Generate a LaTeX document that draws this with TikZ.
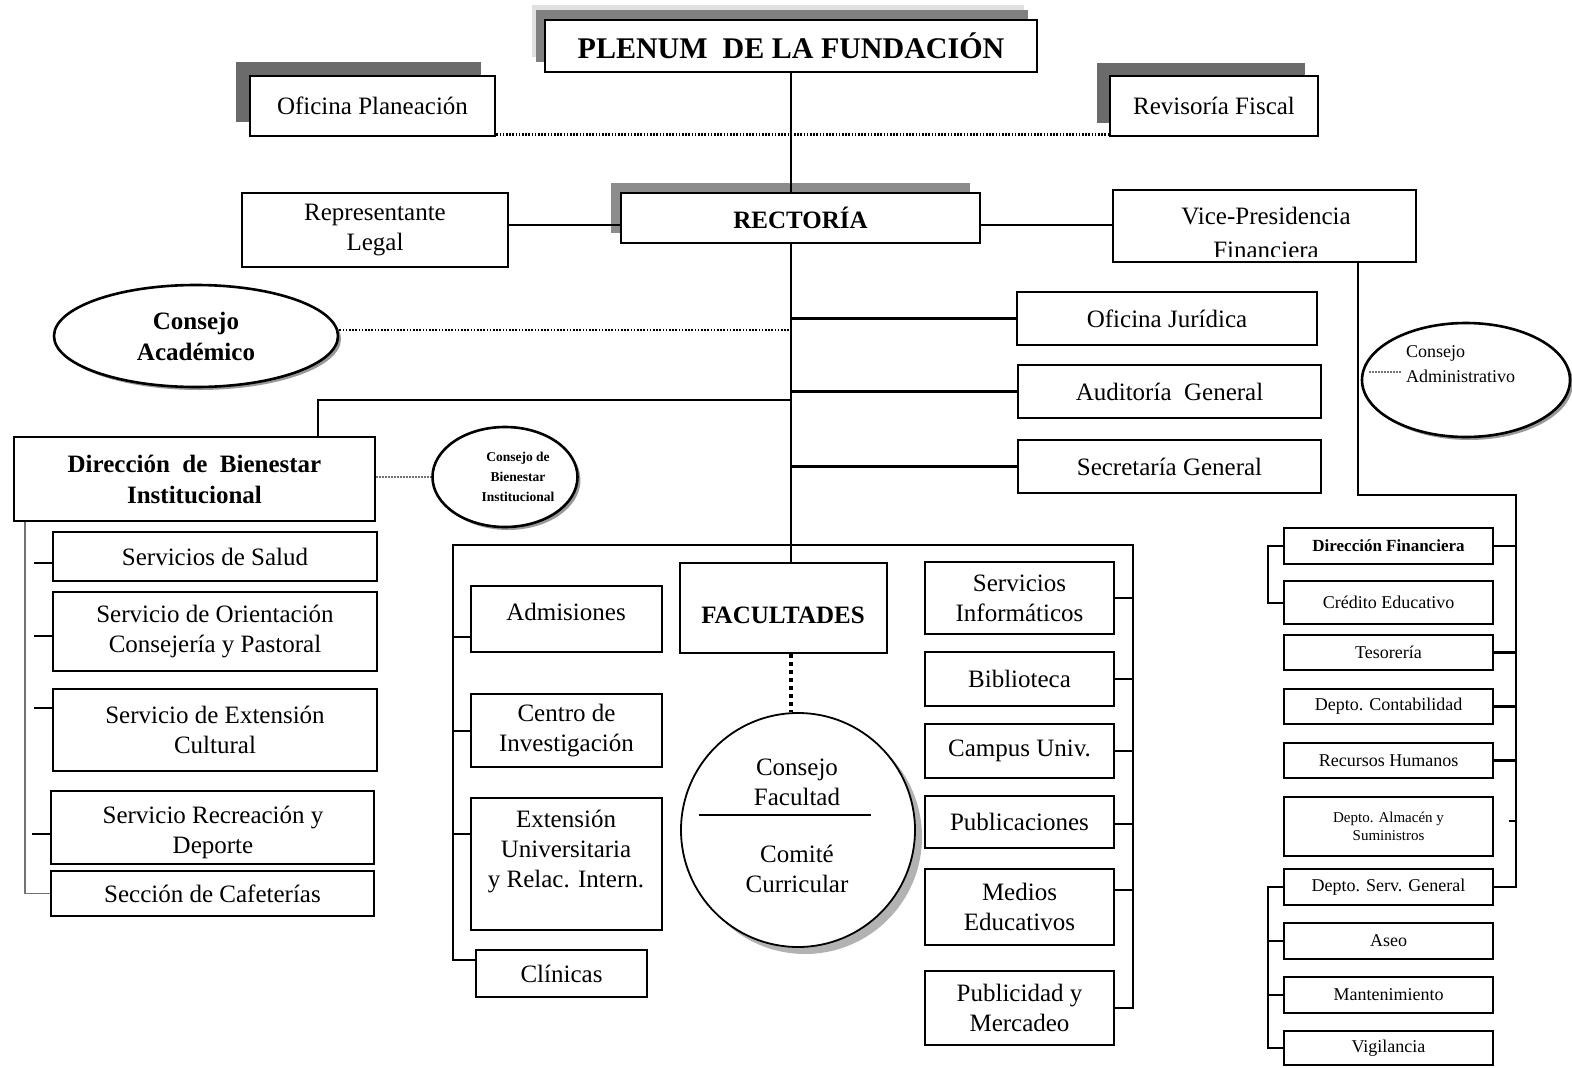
\documentclass[tikz,border=0pt]{standalone}
\usepackage{fontspec}
\setmainfont{Liberation Serif}
\usetikzlibrary{shapes.geometric,shadows,calc}

\newcommand\fsreg{\fontsize{25}{30}\selectfont}
\newcommand\fsbig{\bfseries\fontsize{30}{34}\selectfont}
\newcommand\fsbold{\bfseries\fontsize{25}{31}\selectfont}
\newcommand\fsfin{\fontsize{18}{21}\selectfont}
\newcommand\fsfinb{\bfseries\fontsize{17}{20}\selectfont}
\newcommand\fstiny{\bfseries\fontsize{13.5}{20}\selectfont}
\newcommand\fsadm{\fontsize{18}{25}\selectfont}

% rectangle node given by its corners: \bx[style]{name}{x1}{y1}{x2}{y2}{text}
\newcommand\bx[7][]{\node[box,#1,minimum width={(#5-#3)*1pt},minimum height={(#6-#4)*1pt}]
  (#2) at ({(#3+#5)/2},{(#4+#6)/2}) {#7};}

\begin{document}
\begin{tikzpicture}[x=1pt,y=-1pt,
  box/.style={draw, line width=2.6pt, inner sep=0pt, align=center, font=\fsreg},
  fbox/.style={line width=2.4pt, font=\fsfin},
  txt/.style={inner sep=0pt, align=center, font=\fsreg},
  ellip/.style={ellipse, draw, line width=2.6pt, fill=white, inner sep=0pt, align=center,
    drop shadow={shadow xshift=3pt, shadow yshift=-3pt, fill=gray, opacity=0.8}},
  upshadow/.style={fill=white, general shadow={shadow xshift=-#1pt, shadow yshift=#1pt, fill=black!58}},
  conn/.style={line width=2.6pt},
  thinline/.style={line width=1.4pt},
  dotline/.style={line width=2.6pt, dash pattern=on 1.6pt off 1.6pt},
  dotthin/.style={line width=1.2pt, black!55, dash pattern=on 1.5pt off 1.5pt},
  dotthick/.style={line width=4pt, dash pattern=on 4pt off 4pt},
  bracket/.style={line width=1.3pt, black!55},
]
\useasboundingbox (0,0) rectangle (1572,1068);
\fill[white] (0,0) rectangle (1572,1068);

% ---------- top level ----------
\bx[font=\fsbig, fill=white,
  general shadow={shadow xshift=-13pt, shadow yshift=15pt, fill=black!12},
  general shadow={shadow xshift=-9pt, shadow yshift=10pt, fill=black!50}]
  {plenum}{545}{20}{1037}{72}{PLENUM\ \ DE LA FUNDACIÓN}
\bx[upshadow=14]{ofplan}{250}{76}{495}{136}{Oficina Planeación}
\bx[upshadow=13]{revfis}{1110}{76}{1318}{136}{Revisoría Fiscal}

\bx{replegal}{242}{193}{508}{267}{Representante\\Legal}
\bx[font=\fsbold, fill=white,
  general shadow={shadow xshift=-10pt, shadow yshift=10pt, fill=black!45}]
  {rector}{621}{193}{980}{243}{RECTORÍA}

% Vice-Presidencia: the second line runs under the bottom border
\begin{scope}
  \clip (1113,190) rectangle (1416,256);
  \node[txt, anchor=base] (viceA) at (1266,224) {Vice-Presidencia};
  \node[txt, anchor=base] (viceB) at (1266,258) {Financiera};
\end{scope}
\bx{vicepres}{1113}{190}{1416}{262}{}

\coordinate (sp) at (791,0);

% ---------- staff offices ----------
\bx{ofjur}{1017}{292}{1317}{345}{Oficina Jurídica}
\bx{audit}{1018}{365}{1321}{418}{Auditoría\ \ General}
\bx{secre}{1018}{440}{1321}{493}{Secretaría General}

\node[ellip, font=\fsbold, minimum width=284pt, minimum height=102pt] (cacad) at (196,336) {Consejo\\Académico};

% ---------- bienestar ----------
\bx[font=\fsbold]{dirbien}{14}{437}{375}{521}{Dirección\ \ de\ \ Bienestar\\Institucional}
\node[ellip, minimum width=145pt, minimum height=100pt] (cbien) at (505,477) {};
\node[txt, font=\fstiny] (cbienT) at (518,477) {Consejo de\\Bienestar\\Institucional};

\bx{salud}{53}{532}{377}{581}{Servicios de Salud}
\bx{orient}{53}{592}{377}{671}{Servicio de Orientación\\Consejería y Pastoral}
\bx{extcult}{53}{689}{377}{771}{Servicio de Extensión\\Cultural}
\node[txt] (recreaT) at (213,832) {Servicio Recreación y\\Deporte};
\bx{recrea}{51}{791}{374}{864}{}
\bx{cafet}{51}{871}{374}{916}{Sección de Cafeterías}

% ---------- academic units ----------
\bx{admis}{471}{586}{662}{652}{}
\node[txt] (admisT) at (566,612) {Admisiones};
\bx{cinv}{471}{694}{662}{767}{Centro de\\Investigación}
\bx{extuni}{471}{798}{662}{930}{}
\node[txt] (extuniT) at (566,851) {Extensión\\Universitaria\\y Relac. Intern.};
\bx{clin}{476}{950}{647}{997}{Clínicas}

\bx{facult}{680}{563}{887}{653}{}
\node[txt, font=\fsbold] (facultT) at (783,615) {FACULTADES};

\node[circle, draw, line width=1.8pt, fill=white, minimum size=234pt, inner sep=0pt,
  drop shadow={shadow xshift=7pt, shadow yshift=-7pt, fill=black!30, opacity=1}] (cfac) at (798,830) {};
\draw[line width=1.6pt] ($(cfac.center)+(-99,-15)$) -- ($(cfac.center)+(73,-15)$);
\node[txt] (cfacA) at (797,782) {Consejo\\Facultad};
\node[txt] (cfacB) at (797,869) {Comité\\Curricular};

\bx{servinf}{925}{562}{1114}{634}{Servicios\\Informáticos}
\bx{biblio}{925}{652}{1114}{706}{Biblioteca}
\bx{campus}{925}{724}{1114}{778}{Campus Univ.}
\bx{public}{925}{796}{1114}{848}{Publicaciones}
\bx{medios}{925}{869}{1114}{945}{Medios\\Educativos}
\bx{publi}{925}{971}{1114}{1045}{Publicidad y\\Mercadeo}

% ---------- finance ----------
\node[ellip, minimum width=208pt, minimum height=114pt] (cadm) at (1466,380) {};
\node[txt, font=\fsadm, align=left, anchor=west] (cadmT) at (1406,364) {Consejo\\Administrativo};
\coordinate (cadmdot) at (1369,372);

\bx[fbox, font=\fsfinb]{dfin}{1284}{528}{1493}{564}{Dirección Financiera}
\bx[fbox]{credito}{1284}{581}{1493}{624}{Crédito Educativo}
\bx[fbox]{tesor}{1284}{635}{1493}{670}{Tesorería}
\bx[fbox]{contab}{1284}{689}{1493}{724}{Depto. Contabilidad}
\bx[fbox]{rrhh}{1284}{743}{1493}{778}{Recursos Humanos}
\bx[fbox, font=\fontsize{15}{18}\selectfont]{almacen}{1284}{797}{1493}{856}{Depto. Almacén y\\Suministros}
\bx[fbox]{servgen}{1284}{869}{1493}{905}{Depto. Serv. General}
\bx[fbox]{aseo}{1284}{923}{1493}{959}{Aseo}
\bx[fbox]{mant}{1284}{977}{1493}{1013}{Mantenimiento}
\bx[fbox]{vigil}{1284}{1031}{1493}{1065}{Vigilancia}

% ---------- connectors ----------
\draw[thinline] (plenum.south -| sp) -- (rector.north -| sp);
\draw[dotline] ([yshift=3pt]ofplan.south east) -- ([yshift=3pt]revfis.south west);
\draw[conn] (replegal.east |- 0,225) -- (rector.west |- 0,225);
\draw[conn] (rector.east |- 0,225) -- (vicepres.west |- 0,225);
\draw[conn] (rector.south -| sp) -- (facult.north -| sp);
\draw[conn] (sp |- ofjur.west) -- (ofjur.west);
\draw[dotline] (cacad.east |- 0,330) -- (sp |- 0,330);
\draw[conn] (sp |- audit.west) -- (audit.west);
\draw[conn] (sp |- 0,400) -| (dirbien.north -| 318,0);
\draw[conn] (sp |- secre.west) -- (secre.west);

\draw[dotthin] (dirbien.east |- 0,477) -- (cbien.west);
\draw[bracket] (dirbien.south -| 25,0) |- (cafet.west);
\foreach \n/\yy in {salud/563, orient/636, extcult/708, recrea/834}
  \draw[conn] (\n.west |- 0,\yy) -- ++(-18,0);

\draw[conn] (clin.west |- 0,960) -| (453,545) -- (1133,545) |- (publi.east |- 0,1008);
\foreach \n/\yy in {admis/637, cinv/731, extuni/834}
  \draw[conn] (\n.west |- 0,\yy) -- (453,\yy);
\foreach \n/\yy in {servinf/598, biblio/679, campus/751, public/824, medios/890}
  \draw[conn] (\n.east |- 0,\yy) -- (1133,\yy);
\draw[dotthick] (facult.south -| sp) -- (cfac.north -| sp);

\draw[dotthin] (cadmdot) -- ++(32,0);
\draw[conn] (vicepres.south -| 1358,0) |- (1516,495) |- (servgen.east);
\foreach \n in {dfin, tesor, contab, rrhh}
  \draw[conn] (\n.east) -- (\n.east -| 1516,0);
\draw[conn] (almacen.east |- 0,821) ++(15,0) -- ++(8,0);
\draw[conn] (dfin.west) -| (1268,603) -- (credito.west |- 0,603);
\draw[conn] (servgen.west) -| (1268,1048) -- (vigil.west);
\foreach \n in {aseo, mant}
  \draw[conn] (\n.west) -- ++(-16,0);
\end{tikzpicture}
\end{document}
